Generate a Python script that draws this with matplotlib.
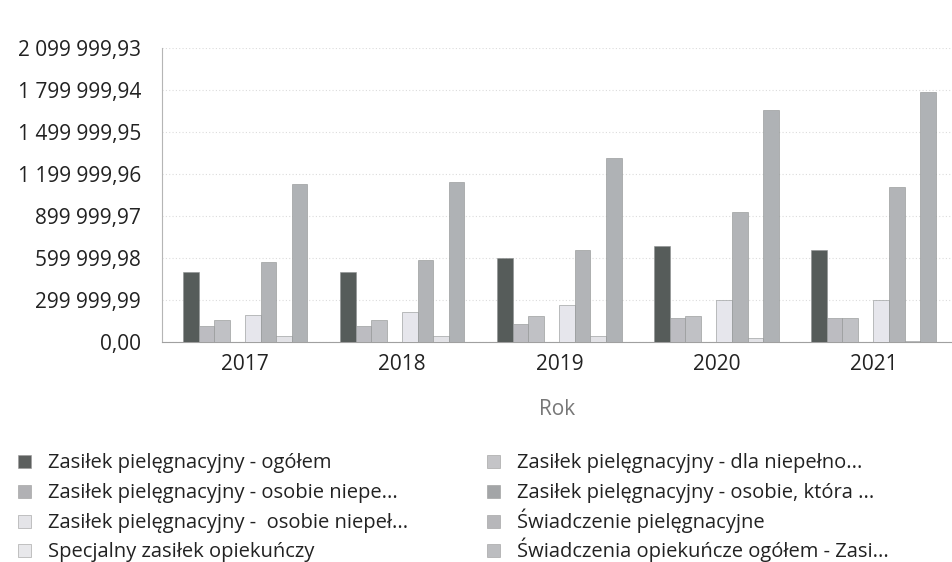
import matplotlib
matplotlib.use("Agg")
import matplotlib.pyplot as plt
import numpy as np
from matplotlib.patches import Rectangle
from matplotlib.ticker import FixedLocator, FuncFormatter

plt.rcParams['font.family'] = ['Open Sans', 'DejaVu Sans']

years = ["2017", "2018", "2019", "2020", "2021"]

series_names = [
    "Zasiłek pielęgnacyjny - ogółem",
    "Zasiłek pielęgnacyjny - dla niepełno...",
    "Zasiłek pielęgnacyjny - osobie niepe...",
    "Zasiłek pielęgnacyjny - osobie, która ...",
    "Zasiłek pielęgnacyjny -  osobie niepeł...",
    "Świadczenie pielęgnacyjne",
    "Specjalny zasiłek opiekuńczy",
    "Świadczenia opiekuńcze ogółem - Zasi...",
]

zasilek_ogolem = [497000, 497000, 597000, 683000, 659000]
zasilek_dla_niepelnosprawnego = [111000, 111000, 126000, 171000, 171000]
zasilek_osobie_niepe = [154000, 154000, 183000, 183000, 171000]
zasilek_osobie_ktora = [0, 0, 0, 0, 0]
zasilek_osobie_niepel = [195000, 211000, 266000, 297000, 297000]
swiadczenie_pielegnacyjne = [569000, 586000, 654000, 929000, 1104000]
specjalny_zasilek = [40000, 40000, 40000, 29000, 8000]
swiadczenia_ogolem = [1129000, 1143000, 1314000, 1659000, 1788000]

values = [
    zasilek_ogolem,
    zasilek_dla_niepelnosprawnego,
    zasilek_osobie_niepe,
    zasilek_osobie_ktora,
    zasilek_osobie_niepel,
    swiadczenie_pielegnacyjne,
    specjalny_zasilek,
    swiadczenia_ogolem,
]

colors = ["#565c5a", "#bcbcc1", "#c0c1c5", "#a4a5a8",
          "#e6e6ec", "#b2b4b7", "#e2e2e6", "#afb2b5"]
legend_colors = ["#5c5f5e", "#c4c4c7", "#b1b1b4", "#a3a5a7",
                 "#e4e4e8", "#b7b7ba", "#e8e8eb", "#bcbdc0"]

ymax = 2099999.93
step = 299999.99
ticks = [i * step for i in range(8)]

W, H = 952, 562
fig = plt.figure(figsize=(W / 100, H / 100), dpi=100)
ax = fig.add_axes([162 / W, 1 - 342 / H, 790 / W, 294 / H])

x = np.arange(len(years))
n = len(values)
bw = 0.099
offsets = (np.arange(n) - (n - 1) / 2) * bw
for i, vals in enumerate(values):
    ax.bar(x + offsets[i], vals, width=bw, color=colors[i],
           edgecolor="#8d9090", linewidth=0.4, zorder=3)

ax.set_xlim(-0.53, 4.5)
ax.set_ylim(0, ymax)
ax.yaxis.set_major_locator(FixedLocator(ticks))


def fmt(v, _pos):
    s = f"{v:,.2f}"
    return s.replace(",", " ").replace(".", ",")


ax.yaxis.set_major_formatter(FuncFormatter(fmt))
ax.set_xticks(x)
ax.set_xticklabels(years)
ax.tick_params(axis="both", length=0, labelsize=15, colors="#222222")
ax.tick_params(axis="y", pad=15)
ax.tick_params(axis="x", pad=9)

ax.grid(axis="y", color="#dcdcdc", linestyle=(0, (1, 2)), linewidth=0.8, zorder=0)
for side in ["top", "right"]:
    ax.spines[side].set_visible(False)
ax.spines["left"].set_color("#b5b5b5")
ax.spines["left"].set_linestyle((0, (1, 1)))
ax.spines["left"].set_linewidth(0.8)
ax.spines["bottom"].set_color("#a0a0a0")
ax.spines["bottom"].set_linestyle((0, (1, 1)))
ax.spines["bottom"].set_linewidth(0.8)

ax.set_xlabel("Rok", fontsize=15, color="#777777", labelpad=17)

# Legend laid out in two columns with a fixed row pitch (text on a shared baseline)
row_y = [461, 491, 521, 550]
col_x = [18, 487]
sw = 13
for i in range(n):
    col = i % 2
    row = i // 2
    cx, cy = col_x[col], row_y[row]
    fig.add_artist(Rectangle((cx / W, 1 - (cy + sw / 2) / H), sw / W, sw / H,
                             transform=fig.transFigure, facecolor=legend_colors[i],
                             edgecolor="#9a9a9a", linewidth=0.4))
    fig.text((cx + 30) / W, 1 - (cy + 7) / H, series_names[i], fontsize=14.5,
             color="#222222", va="baseline", ha="left")

fig.savefig("out.png", dpi=100)
